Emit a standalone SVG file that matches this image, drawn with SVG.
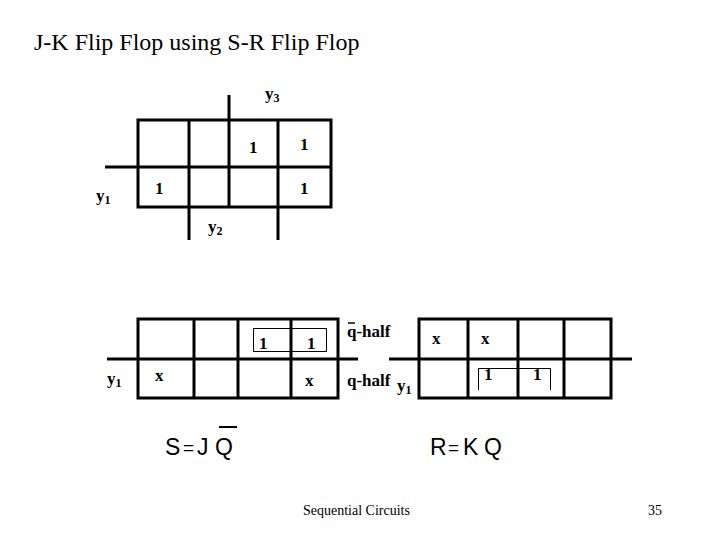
<svg xmlns="http://www.w3.org/2000/svg" width="720" height="540" viewBox="0 0 720 540">
<style>
.g{stroke:#000;stroke-width:3;fill:none}
.t{stroke:#000;stroke-width:1;fill:none}
.k{font-family:"Liberation Serif",serif;font-weight:bold;font-size:17px;fill:#000}
.s{font-size:12px}
.f{font-family:"Liberation Sans",Arial,sans-serif;font-size:23px;fill:#000}
.eq{font-size:19px}
.title{font-family:"Liberation Serif",serif;font-size:24px;fill:#000}
.foot{font-family:"Liberation Serif",serif;font-size:14px;fill:#000}
</style>
<rect width="720" height="540" fill="#fff"/>
<text class="title" x="34" y="50">J-K Flip Flop using S-R Flip Flop</text>

<g id="kmap-top">
<g class="g">
<rect x="138" y="120" width="193" height="87"/>
<line x1="189" y1="120" x2="189" y2="240"/>
<line x1="229" y1="95" x2="229" y2="207"/>
<line x1="278" y1="120" x2="278" y2="240"/>
<line x1="105" y1="167" x2="331" y2="167"/>
</g>
<text class="k" x="265" y="99">y<tspan class="s" dy="3">3</tspan></text>
<text class="k" x="96" y="201">y<tspan class="s" dy="3">1</tspan></text>
<text class="k" x="208" y="232">y<tspan class="s" dy="3">2</tspan></text>
<text class="k" x="249" y="153">1</text>
<text class="k" x="300" y="150">1</text>
<text class="k" x="155" y="194">1</text>
<text class="k" x="300" y="194">1</text>
</g>

<g id="kmap-s">
<g class="g">
<rect x="138" y="319" width="200" height="79"/>
<line x1="194" y1="319" x2="194" y2="398"/>
<line x1="238" y1="319" x2="238" y2="398"/>
<line x1="291" y1="319" x2="291" y2="398"/>
<line x1="107" y1="359" x2="358" y2="359"/>
</g>
<rect class="t" x="253.5" y="328.5" width="73" height="23"/>
<text class="k" x="259" y="349">1</text>
<text class="k" x="307" y="349">1</text>
<text class="k" x="155" y="381">x</text>
<text class="k" x="305" y="386">x</text>
<text class="k" x="107" y="384">y<tspan class="s" dy="3">1</tspan></text>
<text class="k" x="347" y="337">q-half</text>
<line x1="348" y1="323" x2="355" y2="323" stroke="#000" stroke-width="1.5"/>
<text class="k" x="347" y="386">q-half</text>
</g>

<g id="kmap-r">
<g class="g">
<rect x="419" y="319" width="192" height="79"/>
<line x1="468" y1="319" x2="468" y2="398"/>
<line x1="518" y1="319" x2="518" y2="398"/>
<line x1="564" y1="319" x2="564" y2="398"/>
<line x1="389" y1="359" x2="632" y2="359"/>
</g>
<polyline class="t" points="478.5,390 478.5,368.5 550.5,368.5 550.5,390"/>
<text class="k" x="432" y="344">x</text>
<text class="k" x="481" y="344">x</text>
<text class="k" x="484" y="380">1</text>
<text class="k" x="533" y="380">1</text>
<text class="k" x="397" y="391">y<tspan class="s" dy="3">1</tspan></text>
</g>

<g id="equations">
<text class="f" x="165" y="455">S</text>
<text class="f eq" x="183" y="454">=</text>
<text class="f" x="197" y="455">J</text>
<text class="f" x="215" y="455">Q</text>
<line x1="219" y1="427" x2="237" y2="427" stroke="#000" stroke-width="2"/>
<text class="f" x="430" y="455">R</text>
<text class="f eq" x="448" y="454">=</text>
<text class="f" x="463" y="455">K</text>
<text class="f" x="484" y="455">Q</text>
</g>

<text class="foot" x="303" y="515">Sequential Circuits</text>
<text class="foot" x="648" y="515">35</text>
</svg>
